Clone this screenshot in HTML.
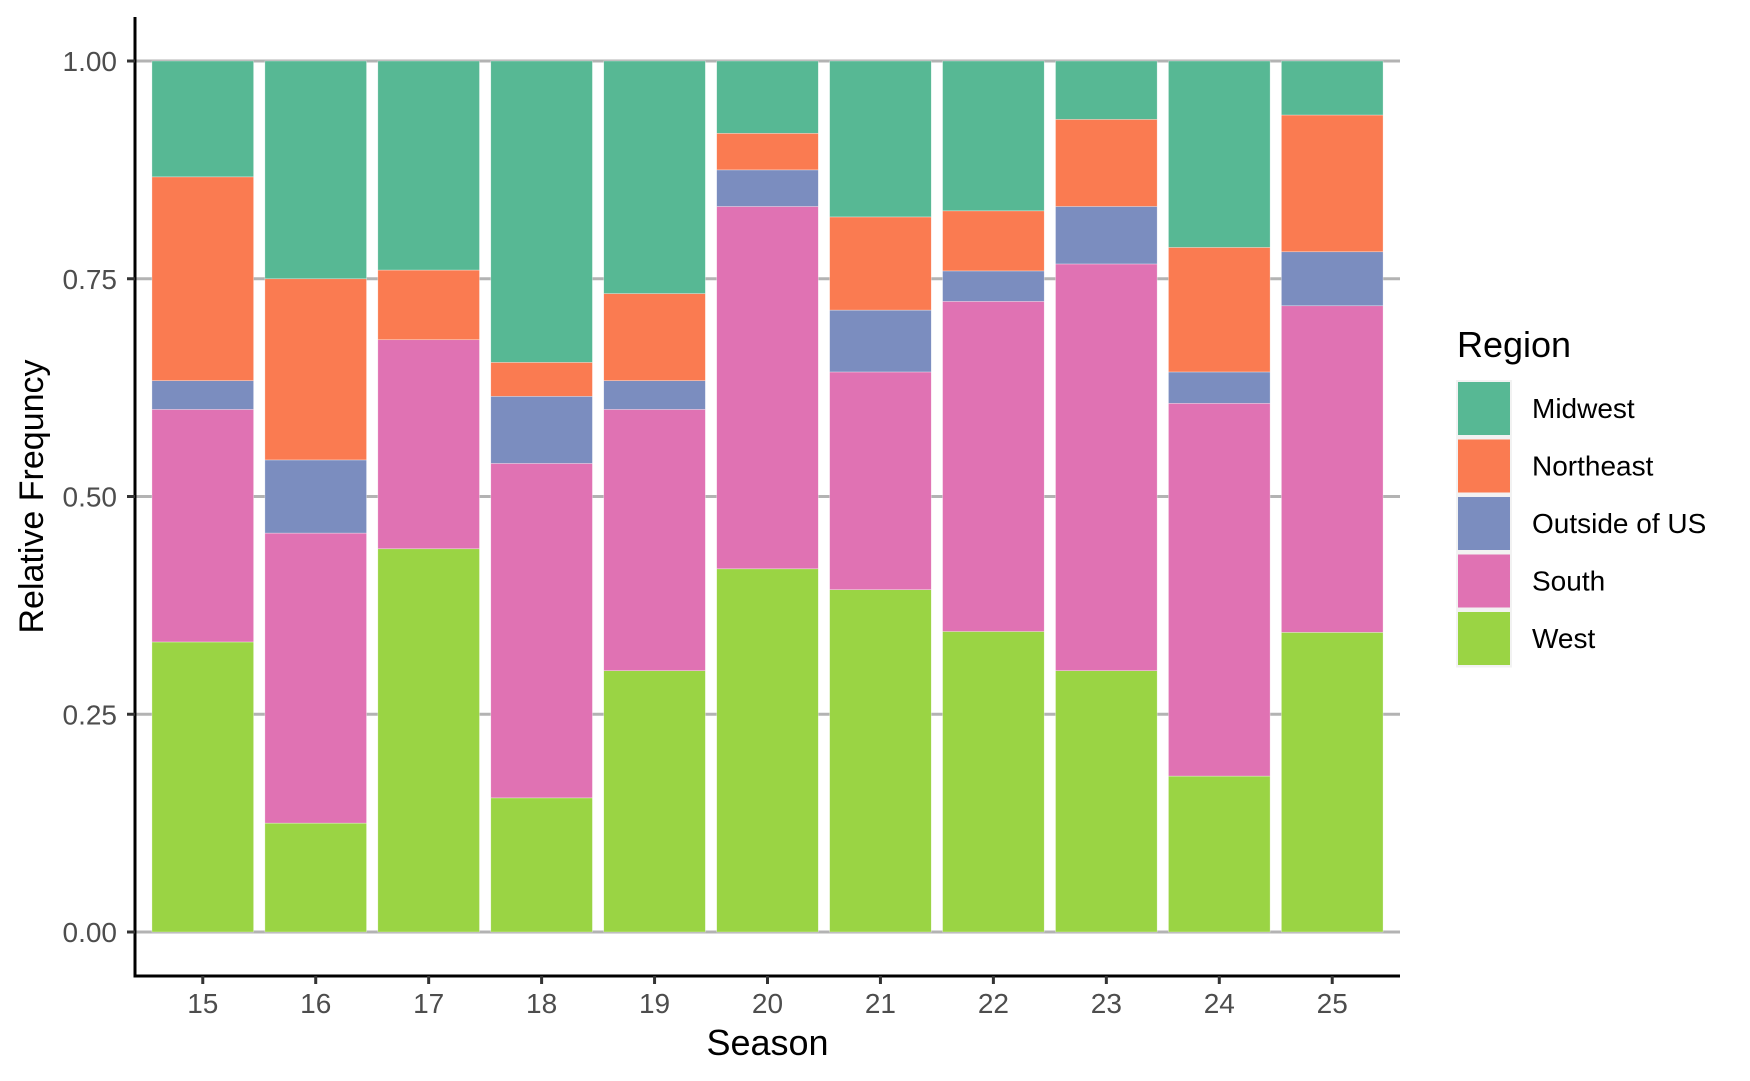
<!DOCTYPE html>
<html><head><meta charset="utf-8"><style>
html,body{margin:0;padding:0;background:#fff;}
svg{display:block;font-family:"Liberation Sans",Arial,sans-serif;}
</style></head><body>
<svg id="chart" width="1750" height="1081" viewBox="0 0 1750 1081"></svg>
<script>
const seasons = ["15","16","17","18","19","20","21","22","23","24","25"];
const regions = ["West","South","Outside of US","Northeast","Midwest"];
const westVals = [0.333,0.125,0.44,0.154,0.3,0.417,0.393,0.345,0.3,0.179,0.344];
const southVals = [0.267,0.333,0.24,0.384,0.3,0.416,0.25,0.379,0.467,0.428,0.375];
const outsideVals = [0.033,0.084,0,0.077,0.033,0.042,0.071,0.035,0.066,0.036,0.062];
const northeastVals = [0.234,0.208,0.08,0.039,0.1,0.042,0.107,0.069,0.1,0.143,0.157];
const midwestVals = [0.133,0.25,0.24,0.346,0.267,0.083,0.179,0.172,0.067,0.214,0.062];
const yTicks = [0,0.25,0.5,0.75,1];
const yTickLabels = ["0.00","0.25","0.50","0.75","1.00"];
const legendOrder = ["Midwest","Northeast","Outside of US","South","West"];

const colors = {"Midwest":"#57b894","Northeast":"#fa7b51","Outside of US":"#7b8dbf","South":"#e072b3","West":"#9ad444"};
const seriesVals = {"West":westVals,"South":southVals,"Outside of US":outsideVals,"Northeast":northeastVals,"Midwest":midwestVals};
const NS="http://www.w3.org/2000/svg";
const svg=document.getElementById('chart');
const L=135,R=1400,T=17,B=976;
const x0=L+0.6*(R-L)/11.2, step=(R-L)/11.2;
function xs(i){return x0+i*step;}
function ys(v){return 932-v*871;}
function el(t,a,p){const e=document.createElementNS(NS,t);for(const k in a)e.setAttribute(k,a[k]);(p||svg).appendChild(e);return e;}

yTicks.forEach((v,i)=>{
  const g=el('line',{x1:L,x2:R,y1:ys(v),y2:ys(v),stroke:'#b3b3b3','stroke-width':3});
  
  
});
seasons.forEach((s,i)=>{
  let cum=0;
  regions.forEach(r=>{
    const v=seriesVals[r][i];
    if(v<=0)return;
    const total=westVals[i]+southVals[i]+outsideVals[i]+northeastVals[i]+midwestVals[i];
    const a=cum/total,b=(cum+v)/total;cum+=v;
    const rect=el('rect',{x:xs(i)-0.45*step,width:0.9*step,y:ys(b),height:ys(a)-ys(b),fill:colors[r],stroke:'#ffffff','stroke-width':0.6,'stroke-opacity':0.5});
    
    
  });
});
const ax=el('line',{x1:L,x2:L,y1:T,y2:B,stroke:'#000','stroke-width':3});


const bx=el('line',{x1:L-1.5,x2:R,y1:B,y2:B,stroke:'#000','stroke-width':3});


yTicks.forEach((v,i)=>{
  const t=el('line',{x1:L-8,x2:L,y1:ys(v),y2:ys(v),stroke:'#333','stroke-width':3});
  
  
  const tx=el('text',{x:L-18,y:ys(v)+10,'text-anchor':'end','font-size':28,fill:'#4d4d4d'});
  tx.textContent=yTickLabels[i];
  
  
});
seasons.forEach((s,i)=>{
  const t=el('line',{x1:xs(i),x2:xs(i),y1:B,y2:B+8,stroke:'#333','stroke-width':3});
  
  
  const tx=el('text',{x:xs(i),y:1013,'text-anchor':'middle','font-size':28,fill:'#4d4d4d'});
  tx.textContent=s;
  
  
});
const xt=el('text',{x:(L+R)/2,y:1055,'text-anchor':'middle','font-size':36,fill:'#000'});
xt.textContent='Season';


const yt=el('text',{x:0,y:0,'text-anchor':'middle','font-size':34,fill:'#000',transform:'translate(43,'+((T+B)/2)+') rotate(-90)'});
yt.textContent='Relative Frequncy';


const lt=el('text',{x:1457,y:357,'font-size':36,fill:'#000'});
lt.textContent='Region';


legendOrder.forEach((r,i)=>{
  const y=380+i*57.5;
  const bg=el('rect',{x:1456,y:y,width:56,height:57.5,fill:'#f2f2f2'});
  
  
  const k=el('rect',{x:1458,y:y+2,width:52,height:53,fill:colors[r]});
  
  
  const t=el('text',{x:1532,y:y+38,'font-size':28,fill:'#000'});
  t.textContent=r;
  
  
});
</script>
</body></html>
